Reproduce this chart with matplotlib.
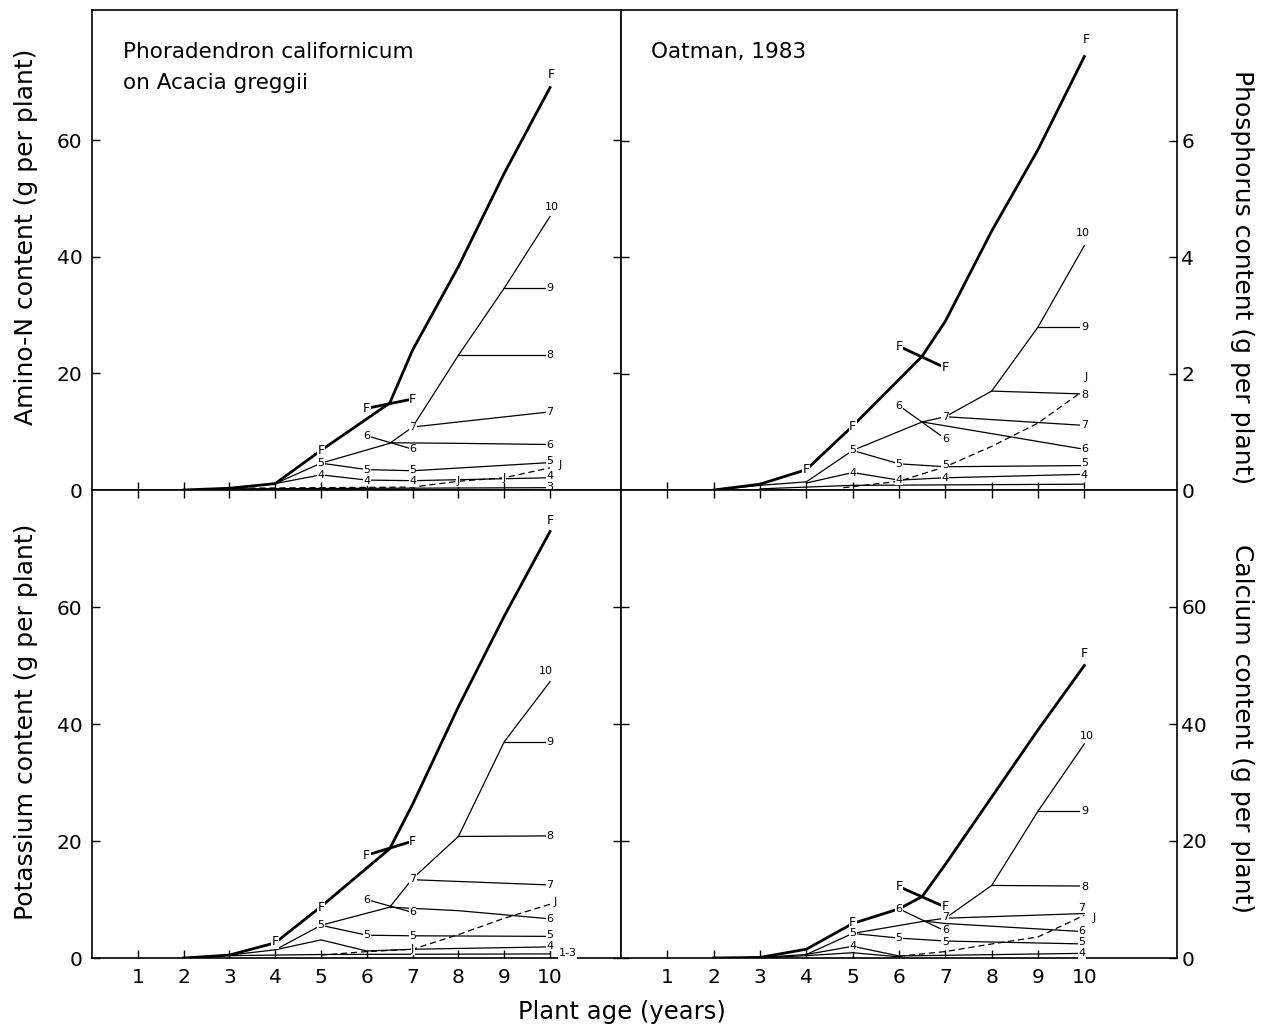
import matplotlib
matplotlib.use('Agg')
import matplotlib.pyplot as plt

# ---- values: (plant age in years, content in g per plant) ----

# Amino-N
amino_F = [(2, 0), (3, 0.3), (4, 1.1), (5, 6.8), (6.5, 14.9), (7, 24), (8, 38.3), (9, 54.3), (10, 69)]
amino_FF = [(6, 14.0), (7, 15.6)]
amino_10 = [(2, 0), (3, 0.3), (4, 1.1), (5, 4.6), (6.5, 8.0), (7, 10.8), (8, 23.1), (9, 34.6), (10, 46.9)]
amino_9 = [(9, 34.6), (10, 34.6)]
amino_8 = [(8, 23.1), (10, 23.1)]
amino_7 = [(7, 10.8), (10, 13.4)]
amino_6x = [(6, 9.3), (7, 7.0)]
amino_6 = [(6.5, 8.1), (8, 8.0), (10, 7.8)]
amino_5 = [(5, 4.6), (6, 3.5), (7, 3.3), (10, 4.7)]
amino_4 = [(4, 1.1), (5, 2.6), (6, 1.7), (7, 1.6), (10, 2.1)]
amino_3 = [(3, 0.2), (10, 0.4)]
amino_J = [(3, 0.3), (7, 0.5), (8, 1.5), (9, 2.1), (10, 3.8)]
amino_labels = [('F', 5, 6.8), ('F', 10.03, 71.2), ('F', 6, 14.0), ('F', 7, 15.6),
                ('5', 5, 4.7), ('7', 7, 10.8), ('10', 10.05, 48.6), ('9', 10, 34.6),
                ('8', 10, 23.1), ('7', 10, 13.4), ('6', 6, 9.3), ('6', 7, 7.0),
                ('6', 10, 7.8), ('5', 6, 3.5), ('5', 7, 3.4), ('5', 10, 5.0),
                ('4', 5, 2.6), ('4', 6, 1.6), ('4', 7, 1.5), ('4', 10, 2.4),
                ('3', 10, 0.5), ('J', 8, 1.5), ('J', 9, 2.1), ('J', 10.22, 4.3)]

# Phosphorus
phos_F = [(2, 0), (3, 0.1), (4, 0.35), (5, 1.1), (6.5, 2.3), (7, 2.9), (8, 4.45), (9, 5.85), (10, 7.45)]
phos_FF = [(6, 2.47), (7, 2.1)]
phos_10 = [(2, 0), (3, 0.08), (4, 0.14), (5, 0.68), (6.5, 1.17), (7, 1.26), (8, 1.7), (9, 2.8), (10, 4.2)]
phos_9 = [(9, 2.8), (10, 2.8)]
phos_8 = [(8, 1.7), (10, 1.65)]
phos_7 = [(7, 1.26), (10, 1.11)]
phos_6x = [(6, 1.45), (7, 0.88)]
phos_6 = [(6.5, 1.17), (10, 0.70)]
phos_5 = [(5, 0.68), (6, 0.45), (7, 0.40), (10, 0.42)]
phos_4 = [(4, 0.12), (5, 0.3), (6, 0.17), (7, 0.21), (10, 0.27)]
phos_3 = [(3, 0.02), (4, 0.05), (5, 0.08), (10, 0.1)]
phos_J = [(4.8, 0.04), (6, 0.15), (7, 0.4), (8, 0.75), (9, 1.15), (10, 1.72)]
phos_labels = [('F', 4, 0.36), ('F', 5, 1.1), ('F', 10.05, 7.75), ('F', 6, 2.47), ('F', 7, 2.1),
               ('5', 5, 0.68), ('7', 7, 1.26), ('10', 9.97, 4.42), ('9', 10, 2.8),
               ('8', 10, 1.63), ('7', 10, 1.11), ('6', 6, 1.45), ('6', 7, 0.88),
               ('6', 10, 0.70), ('5', 6, 0.45), ('5', 7, 0.43), ('5', 10, 0.46),
               ('4', 5, 0.3), ('4', 6, 0.17), ('4', 7, 0.20), ('4', 10, 0.26),
               ('J', 10.05, 1.95)]

# Potassium
pot_F = [(2, 0), (3, 0.5), (4, 2.6), (5, 8.8), (6.5, 18.7), (7, 26.3), (8, 43), (9, 58.5), (10, 73)]
pot_FF = [(6, 17.6), (7, 20.0)]
pot_10 = [(2, 0), (3, 0.5), (4, 1.4), (5, 5.6), (6.5, 8.7), (7, 13.6), (8, 20.8), (9, 37), (10, 47.3)]
pot_9 = [(9, 37), (10, 37)]
pot_8 = [(8, 20.8), (10, 20.9)]
pot_7 = [(7, 13.4), (10, 12.5)]
pot_6x = [(6, 10.0), (7, 7.8)]
pot_6 = [(6.5, 8.7), (8, 8.1), (10, 6.7)]
pot_5 = [(5, 5.6), (6, 3.9), (7, 3.8), (10, 3.7)]
pot_4 = [(4, 1.4), (5, 3.1), (6, 1.2), (7, 1.5), (10, 1.9)]
pot_13 = [(3, 0.4), (5, 0.6), (10, 0.7)]
pot_J = [(5, 0.5), (6, 1.1), (7, 1.5), (8, 4.0), (9, 6.8), (10, 9.2)]
pot_labels = [('F', 4, 2.8), ('F', 5, 8.6), ('F', 10.0, 74.8), ('F', 6, 17.6), ('F', 7, 20.0),
              ('5', 5, 5.6), ('7', 7, 13.6), ('10', 9.9, 49.2), ('9', 10, 37),
              ('8', 10, 20.9), ('7', 10, 12.5), ('6', 6, 10.0), ('6', 7, 7.8),
              ('6', 10, 6.7), ('5', 6, 3.9), ('5', 7, 3.8), ('5', 10, 3.9),
              ('4', 10, 2.1), ('J', 7, 1.5), ('J', 10.12, 9.6), ('1-3', 10.38, 0.8)]

# Calcium
cal_F = [(2, 0), (3, 0.1), (4, 1.5), (5, 5.9), (6, 8.4), (6.5, 10.5), (7, 16), (8, 27.5), (9, 39), (10, 50)]
cal_FF = [(6, 12.2), (7, 8.7)]
cal_10 = [(3, 0.1), (4, 0.6), (5, 4.2), (6.55, 6.3), (7, 6.8), (8, 12.4), (9, 25.1), (10, 36.6)]
cal_9 = [(9, 25.1), (10, 25.1)]
cal_8 = [(8, 12.4), (10, 12.3)]
cal_7 = [(7, 6.8), (10, 7.6)]
cal_6x = [(6, 8.4), (7, 4.6)]
cal_6 = [(6.55, 6.3), (7, 5.9), (10, 4.5)]
cal_5 = [(5, 4.2), (6, 3.4), (7, 2.9), (10, 2.4)]
cal_4 = [(4, 0.6), (5, 2.0), (6, 0.35), (10, 0.8)]
cal_1 = [(3, 0), (4, 0.4), (5, 0.9), (6, 0.2)]
cal_J = [(6, 0.3), (7, 1.1), (8, 2.4), (9, 3.6), (10, 7.3)]
cal_labels = [('F', 5, 6.1), ('F', 10.0, 52.0), ('F', 6, 12.2), ('F', 7, 8.8),
              ('5', 5, 4.2), ('7', 7, 7.0), ('10', 10.05, 37.9), ('9', 10, 25.1),
              ('8', 10, 12.2), ('7', 9.95, 8.6), ('6', 6, 8.4), ('6', 7, 4.8),
              ('6', 9.95, 4.6), ('5', 6, 3.4), ('5', 7, 2.7), ('5', 9.95, 2.7),
              ('4', 5, 2.0), ('4', 9.95, 0.8), ('J', 10.22, 6.8)]

ages = [1, 2, 3, 4, 5, 6, 7, 8, 9, 10]

# ---- figure layout in pixels of the 1261 x 1030 original ----
W, H = 1261, 1030
fig = plt.figure(figsize=(W / 100, H / 100), dpi=100)
plt.rcParams['font.family'] = 'DejaVu Sans'


def box(x0, x1, y0, y1):
    return [x0 / W, 1 - y1 / H, (x1 - x0) / W, (y1 - y0) / H]


X0, XM, X1 = 92, 621, 1177
Y0, YM, Y1 = 10, 490, 958

ax_n = fig.add_axes(box(X0, XM, Y0, YM))
ax_p = fig.add_axes(box(XM, X1, Y0, YM))
ax_k = fig.add_axes(box(X0, XM, YM, Y1))
ax_c = fig.add_axes(box(XM, X1, YM, Y1))


def draw_panel(ax, thick, thin, dashed, labels):
    for pts in thick:
        ax.plot([p[0] for p in pts], [p[1] for p in pts], color='black', lw=2.0,
                solid_joinstyle='miter', zorder=3)
    for pts in thin:
        ax.plot([p[0] for p in pts], [p[1] for p in pts], color='black', lw=0.9, zorder=2)
    for pts in dashed:
        ax.plot([p[0] for p in pts], [p[1] for p in pts], color='black', lw=0.9,
                linestyle=(0, (5, 3)), zorder=2)
    for txt, x, y in labels:
        ax.text(x, y, txt, fontsize=8 if txt != 'F' else 9, ha='center', va='center',
                zorder=5, bbox=dict(boxstyle='square,pad=0.03', fc='white', ec='none'))


draw_panel(ax_n, [amino_F, amino_FF],
           [amino_10, amino_9, amino_8, amino_7, amino_6x, amino_6, amino_5, amino_4, amino_3],
           [amino_J], amino_labels)
draw_panel(ax_p, [phos_F, phos_FF],
           [phos_10, phos_9, phos_8, phos_7, phos_6x, phos_6, phos_5, phos_4, phos_3],
           [phos_J], phos_labels)
draw_panel(ax_k, [pot_F, pot_FF],
           [pot_10, pot_9, pot_8, pot_7, pot_6x, pot_6, pot_5, pot_4, pot_13],
           [pot_J], pot_labels)
draw_panel(ax_c, [cal_F, cal_FF],
           [cal_10, cal_9, cal_8, cal_7, cal_6x, cal_6, cal_5, cal_4, cal_1],
           [cal_J], cal_labels)

# axes limits and ticks
ax_n.set_xlim(0, 11.55)
ax_k.set_xlim(0, 11.55)
ax_p.set_xlim(0, 12.0)
ax_c.set_xlim(0, 12.0)
ax_n.set_ylim(0, 82.3)
ax_p.set_ylim(0, 8.25)
ax_k.set_ylim(0, 80.1)
ax_c.set_ylim(0, 80.0)

for ax in (ax_n, ax_p, ax_k, ax_c):
    ax.set_xticks(ages)
    for s in ax.spines.values():
        s.set_linewidth(1.2)
    ax.tick_params(direction='in', length=6, width=1.0, labelsize=14.5,
                   left=True, right=True)
    ax.tick_params(axis='x', pad=7)
    ax.tick_params(axis='y', which='both', pad=3)

ax_n.set_yticks([0, 20, 40, 60])
ax_k.set_yticks([0, 20, 40, 60])
ax_p.set_yticks([0, 2, 4, 6])
ax_c.set_yticks([0, 20, 40, 60])

ax_n.tick_params(labelbottom=False, labelleft=True, labelright=False)
ax_p.tick_params(labelbottom=False, labelleft=False, labelright=True)
ax_k.tick_params(top=True, labelleft=True, labelright=False)
ax_c.tick_params(top=True, labelleft=False, labelright=True)
for ax in (ax_n, ax_k):
    ax.tick_params(axis='y', pad=7)

# panel captions
ax_n.text(0.059, 0.912, 'Phoradendron californicum', transform=ax_n.transAxes,
          fontsize=15.5, ha='left', va='center')
ax_n.text(0.059, 0.848, 'on Acacia greggii', transform=ax_n.transAxes,
          fontsize=15.5, ha='left', va='center')
ax_p.text(0.054, 0.912, 'Oatman, 1983', transform=ax_p.transAxes,
          fontsize=15.5, ha='left', va='center')

# axis titles
fig.text(26 / W, 1 - 237 / H, 'Amino-N content (g per plant)', rotation=90,
         ha='center', va='center', fontsize=18)
fig.text(26 / W, 1 - 722 / H, 'Potassium content (g per plant)', rotation=90,
         ha='center', va='center', fontsize=18)
fig.text(1242 / W, 1 - 277 / H, 'Phosphorus content (g per plant)', rotation=270,
         ha='center', va='center', fontsize=18)
fig.text(1242 / W, 1 - 728 / H, 'Calcium content (g per plant)', rotation=270,
         ha='center', va='center', fontsize=18)
fig.text(622 / W, 1 - 1012 / H, 'Plant age (years)', ha='center', va='center', fontsize=17.5)

fig.savefig('out.png', dpi=100)
